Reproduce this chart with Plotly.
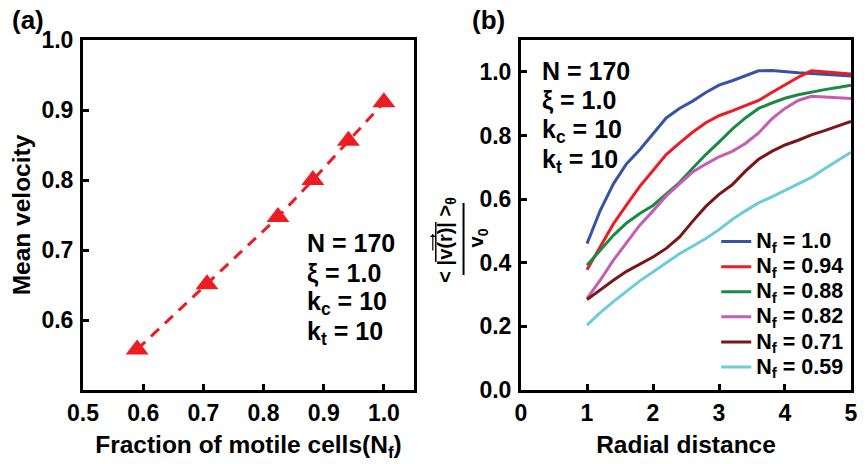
import plotly.graph_objects as go

# ---------------- data: panel (a) ----------------
frac_motile = [0.59, 0.706, 0.824, 0.882, 0.941, 1.0]
mean_velocity = [0.558, 0.651, 0.747, 0.800, 0.856, 0.911]

# ---------------- data: panel (b) ----------------
radial_distance = [1.0, 1.2, 1.4, 1.6, 1.8, 2.0, 2.2, 2.4, 2.6, 2.8, 3.0,
                   3.2, 3.4, 3.6, 3.8, 4.0, 4.2, 4.4, 4.6, 4.8, 5.0]
v_nf_100 = [0.460, 0.564, 0.648, 0.711, 0.755, 0.805, 0.855, 0.885, 0.908, 0.935, 0.958,
            0.972, 0.988, 1.003, 1.004, 1.000, 0.997, 0.995, 0.993, 0.990, 0.987]
v_nf_094 = [0.378, 0.449, 0.522, 0.582, 0.640, 0.690, 0.740, 0.776, 0.810, 0.840, 0.862,
            0.877, 0.893, 0.910, 0.935, 0.958, 0.983, 1.003, 1.000, 0.997, 0.993]
v_nf_088 = [0.392, 0.439, 0.486, 0.525, 0.555, 0.580, 0.615, 0.652, 0.697, 0.740, 0.779,
            0.820, 0.855, 0.885, 0.902, 0.917, 0.928, 0.937, 0.944, 0.951, 0.958]
v_nf_082 = [0.287, 0.345, 0.408, 0.465, 0.518, 0.563, 0.610, 0.648, 0.685, 0.710, 0.733,
            0.750, 0.775, 0.808, 0.852, 0.885, 0.910, 0.923, 0.920, 0.918, 0.916]
v_nf_071 = [0.284, 0.315, 0.345, 0.373, 0.395, 0.418, 0.445, 0.480, 0.530, 0.577, 0.615,
            0.645, 0.688, 0.725, 0.750, 0.770, 0.785, 0.802, 0.815, 0.830, 0.844]
v_nf_059 = [0.204, 0.243, 0.278, 0.312, 0.343, 0.371, 0.400, 0.428, 0.452, 0.476, 0.504,
            0.536, 0.563, 0.588, 0.607, 0.628, 0.648, 0.668, 0.695, 0.720, 0.747]

series_labels = ["1.0", "0.94", "0.88", "0.82", "0.71", "0.59"]
series_values = [v_nf_100, v_nf_094, v_nf_088, v_nf_082, v_nf_071, v_nf_059]
series_colors = ["#3953a4", "#ed1c24", "#1b8a43", "#c65cb4", "#7b1518", "#6ccbdc"]

xa_ticks = [0.5, 0.6, 0.7, 0.8, 0.9, 1.0]
ya_ticks = [0.6, 0.7, 0.8, 0.9, 1.0]
xb_ticks = [0, 1, 2, 3, 4, 5]
yb_ticks = [0.0, 0.2, 0.4, 0.6, 0.8, 1.0]

W, H = 865, 464
ML, MR, MT, MB = 83, 7, 40, 74
PW, PH = W - ML - MR, H - MT - MB


def px(x):
    return (x - ML) / PW


def py(y):
    return (MT + PH - y) / PH


FONT = "Liberation Sans, Arial, sans-serif"

fig = go.Figure()

fig.add_trace(go.Scatter(
    x=frac_motile, y=mean_velocity, mode="lines+markers",
    line=dict(color="#ed1c24", width=3, dash="11px,8px"),
    marker=dict(symbol="triangle-up", size=20, color="#ed1c24"),
    xaxis="x", yaxis="y", showlegend=False))

for lab, vals, col in zip(series_labels, series_values, series_colors):
    fig.add_trace(go.Scatter(
        x=radial_distance, y=vals, mode="lines",
        line=dict(color=col, width=3),
        name="<span style='font-size:21.5px'>N<sub>f</sub> = " + lab + "</span>",
        xaxis="x2", yaxis="y2"))

axis_common = dict(showline=True, linewidth=3, linecolor="black", mirror=True,
                   ticks="inside", ticklen=6, tickwidth=3, tickcolor="black",
                   showgrid=False, zeroline=False,
                   tickfont=dict(family=FONT, size=23, color="black", weight="bold"))

split_a = px(417)
split_b = px(525)

fig.update_layout(
    width=W, height=H,
    margin=dict(l=ML, r=MR, t=MT, b=MB),
    paper_bgcolor="white", plot_bgcolor="white",
    font=dict(family=FONT, color="black", weight="bold"),
    xaxis=dict(domain=[0, split_a], range=[0.5, 1.05], tickvals=xa_ticks,
               tickformat=".1f", anchor="y",
               title=dict(text="Fraction of motile cells(N<sub>f</sub>)",
                          font=dict(size=24.5, family=FONT, weight="bold"), standoff=12),
               **axis_common),
    yaxis=dict(domain=[0, 1], range=[0.5, 1.0], tickvals=ya_ticks,
               tickformat=".1f", anchor="x", ticklabelstandoff=2,
               title=dict(text="Mean velocity",
                          font=dict(size=24.5, family=FONT, weight="bold"), standoff=4),
               **axis_common),
    xaxis2=dict(domain=[split_b, 1], range=[0, 5], tickvals=xb_ticks, anchor="y2",
                title=dict(text="Radial distance",
                           font=dict(size=24.5, family=FONT, weight="bold"), standoff=12),
                **axis_common),
    yaxis2=dict(domain=[0, 1], range=[0, 1.1], tickvals=yb_ticks, tickformat=".1f",
                anchor="x2", ticklabelstandoff=2, **axis_common),
    legend=dict(x=px(722), y=py(224), xanchor="left", yanchor="top",
                bgcolor="rgba(0,0,0,0)", borderwidth=0, tracegroupgap=0,
                font=dict(family=FONT, size=17, color="black", weight="bold")),
)

ann = []
# panel labels
ann.append(dict(text="(a)", x=px(27), y=py(20), xref="paper", yref="paper",
                xanchor="center", yanchor="middle",
                showarrow=False, font=dict(size=26, family=FONT, weight="bold")))
ann.append(dict(text="(b)", x=px(492), y=py(20), xref="paper", yref="paper",
                xanchor="center", yanchor="middle",
                showarrow=False, font=dict(size=26, family=FONT, weight="bold")))

params = ["N = 170", "\u03be = 1.0", "k<sub>c</sub> = 10", "k<sub>t</sub> = 10"]
rows_a = [243, 273, 303, 333]
rows_b = [71, 100, 131, 161]
for t, ya, yb in zip(params, rows_a, rows_b):
    ann.append(dict(text=t, x=px(307), y=py(ya), xref="paper", yref="paper",
                    xanchor="left", yanchor="middle", showarrow=False,
                    font=dict(size=25, family=FONT, weight="bold")))
    ann.append(dict(text=t, x=px(544), y=py(yb), xref="paper", yref="paper",
                    xanchor="left", yanchor="middle", showarrow=False,
                    font=dict(size=25, family=FONT, weight="bold")))

# panel (b) y-axis title as a fraction
ann.append(dict(text="< |v(r)| ><sub>\u03b8</sub>", x=px(449), y=py(240),
                xref="paper", yref="paper", textangle=-90, showarrow=False,
                xanchor="center", yanchor="middle",
                font=dict(size=20, family=FONT, weight="bold")))
ann.append(dict(text="v<sub>0</sub>", x=px(481), y=py(238),
                xref="paper", yref="paper", textangle=-90, showarrow=False,
                xanchor="center", yanchor="middle",
                font=dict(size=20, family=FONT, weight="bold")))
# small vector arrow over r
ann.append(dict(text="", x=px(436), y=py(234), xref="paper", yref="paper",
                showarrow=True, ax=0, ay=18, arrowhead=1, arrowsize=0.8,
                arrowwidth=1.2, arrowcolor="black"))
fig.update_layout(annotations=ann)

fig.add_shape(type="line", xref="paper", yref="paper",
              x0=px(467), x1=px(467), y0=py(203), y1=py(275),
              line=dict(color="black", width=2))
fig.add_shape(type="line", xref="paper", yref="paper",
              x0=px(439), x1=px(439), y0=py(222), y1=py(262),
              line=dict(color="black", width=1.5))

fig.write_html("out.html", config={"displayModeBar": False},
               post_script="document.body.style.margin='0';")
